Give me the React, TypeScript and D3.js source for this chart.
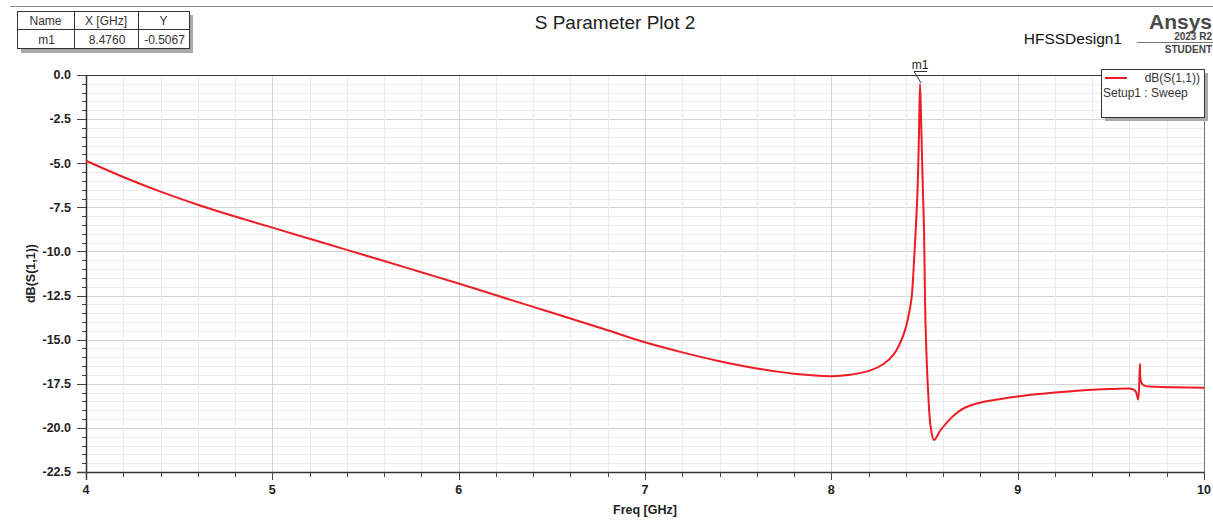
import React from "react";
import * as d3 from "d3";

const freqs = [4.0, 4.2, 4.4, 4.6, 4.8, 5.0, 5.2, 5.4, 5.6, 5.8, 6.0, 6.2, 6.4, 6.6, 6.8, 7.0, 7.2, 7.4, 7.6, 7.8, 8.0, 8.1, 8.21, 8.28, 8.336, 8.39, 8.417, 8.431, 8.444, 8.462, 8.47, 8.476, 8.482, 8.488, 8.497, 8.506, 8.52, 8.533, 8.551, 8.587, 8.641, 8.694, 8.75, 8.82, 8.909, 9.0, 9.1, 9.2, 9.34, 9.5, 9.6, 9.625, 9.635, 9.647, 9.656, 9.662, 9.68, 9.75, 10.0];
const s11 = [-4.86, -5.78, -6.61, -7.35, -8.02, -8.65, -9.28, -9.91, -10.54, -11.18, -11.82, -12.48, -13.14, -13.8, -14.47, -15.15, -15.72, -16.22, -16.63, -16.93, -17.07, -16.99, -16.74, -16.38, -15.82, -14.64, -13.5, -12.6, -10.49, -6.71, -3.5, -0.51, -2.6, -5.2, -8.6, -14.3, -18.05, -19.93, -20.69, -20.12, -19.46, -18.99, -18.72, -18.52, -18.36, -18.22, -18.1, -18.0, -17.88, -17.8, -17.77, -17.85, -17.95, -18.39, -16.38, -17.39, -17.61, -17.67, -17.72];

const xTicks = [4, 5, 6, 7, 8, 9, 10];
const yTicks = [0, -2.5, -5, -7.5, -10, -12.5, -15, -17.5, -20, -22.5];
const markerHeaders = ["Name", "X [GHz]", "Y"];
const markerRow = ["m1", "8.4760", "-0.5067"];
const markerFreq = 8.476;
const markerVal = -0.5067;

const FONT = "'Liberation Sans', Arial, sans-serif";

export default function App() {
  const left = 86, right = 1204, top = 75, bottom = 472;
  const x = d3.scaleLinear().domain([4, 10]).range([left, right]);
  const y = d3.scaleLinear().domain([0, -22.5]).range([top, bottom]);

  const pts = freqs.map((f, i) => [f, s11[i]] as [number, number]);
  const line = d3
    .line<[number, number]>()
    .x((d) => x(d[0]))
    .y((d) => y(d[1]))
    .curve(d3.curveCatmullRom.alpha(0.5));

  const xMinor = d3.range(0, 31).map((i) => 4 + i * 0.2);
  const yMinor = d3.range(0, 46).map((i) => -i * 0.5);

  const mx = x(markerFreq);
  const my = y(markerVal);

  const colX = [17, 74, 138, 189];

  return (
    <svg
      width={1213}
      height={520}
      style={{ position: "absolute", left: 0, top: 0, background: "#fff" }}
      fontFamily={FONT}
    >
      <rect x={0} y={0} width={1213} height={520} fill="#fff" />
      {/* top rule */}
      <line x1={10} x2={1213} y1={6.5} y2={6.5} stroke="#8a8a8a" strokeWidth={1} />

      {/* grid */}
      {yMinor.map((v, i) => (
        <line
          key={"gy" + i}
          x1={left}
          x2={right}
          y1={Math.round(y(v)) + 0.5}
          y2={Math.round(y(v)) + 0.5}
          stroke={i % 5 === 0 ? "#d4d4d4" : "#ececec"}
          strokeWidth={1}
        />
      ))}
      {xMinor.map((v, i) => (
        <line
          key={"gx" + i}
          y1={top}
          y2={bottom}
          x1={Math.round(x(v)) + 0.5}
          x2={Math.round(x(v)) + 0.5}
          stroke={i % 5 === 0 ? "#d4d4d4" : "#ececec"}
          strokeWidth={1}
        />
      ))}

      {/* frame */}
      <line x1={left} x2={right} y1={top + 0.5} y2={top + 0.5} stroke="#333" strokeWidth={1.2} />
      <line x1={right + 0.5} x2={right + 0.5} y1={top} y2={bottom} stroke="#777" strokeWidth={1} />
      <line x1={left + 0.5} x2={left + 0.5} y1={top} y2={bottom + 8} stroke="#333" strokeWidth={1.5} />
      <line x1={left - 9} x2={right} y1={bottom + 0.5} y2={bottom + 0.5} stroke="#333" strokeWidth={1.5} />

      {/* y ticks */}
      {yMinor.map((v, i) => (
        <line
          key={"ty" + i}
          x1={i % 5 === 0 ? left - 9 : left - 4}
          x2={left}
          y1={Math.round(y(v)) + 0.5}
          y2={Math.round(y(v)) + 0.5}
          stroke="#444"
          strokeWidth={1}
        />
      ))}
      {xMinor.map((v, i) => (
        <line
          key={"tx" + i}
          y1={bottom}
          y2={i % 5 === 0 ? bottom + 8 : bottom + 5}
          x1={Math.round(x(v)) + 0.5}
          x2={Math.round(x(v)) + 0.5}
          stroke="#444"
          strokeWidth={1}
        />
      ))}
      {yTicks.map((v) => (
        <text
          key={"ly" + v}
          x={71}
          y={y(v)}
          dy="0.35em"
          textAnchor="end"
          fontSize={12.5}
          fontWeight="bold"
          fill="#222"
        >
          {v.toFixed(1)}
        </text>
      ))}
      {xTicks.map((v) => (
        <text
          key={"lx" + v}
          x={x(v)}
          y={494}
          textAnchor="middle"
          fontSize={12.5}
          fontWeight="bold"
          fill="#222"
        >
          {v}
        </text>
      ))}
      <text x={(left + right) / 2} y={514} textAnchor="middle" fontSize={12.5} fontWeight="bold" fill="#222">
        Freq [GHz]
      </text>
      <text
        transform={`translate(35,${(top + bottom) / 2}) rotate(-90)`}
        textAnchor="middle"
        fontSize={12.5}
        fontWeight="bold"
        fill="#222"
      >
        dB(S(1,1))
      </text>

      {/* curve */}
      <path d={line(pts) || ""} fill="none" stroke="#ee1c25" strokeWidth={2} strokeLinejoin="round" />

      {/* marker */}
      <line x1={mx + 1} y1={my - 1} x2={mx - 6} y2={71.5} stroke="#333" strokeWidth={1} />
      <line x1={mx - 6} y1={71.5} x2={mx + 7} y2={71.5} stroke="#333" strokeWidth={1} />
      <text x={mx} y={69} textAnchor="middle" fontSize={12} fill="#222">
        m1
      </text>

      {/* title */}
      <text x={615} y={29} textAnchor="middle" fontSize={19} fill="#222">
        S Parameter Plot 2
      </text>
      <text x={1122} y={44} textAnchor="end" fontSize={15.5} fill="#111">
        HFSSDesign1
      </text>
      <text x={1212} y={29} textAnchor="end" fontSize={21} fontWeight="bold" fill="#4a4a4a">
        Ansys
      </text>
      <text x={1212} y={40} textAnchor="end" fontSize={10} fontWeight="bold" fill="#444">
        2023 R2
      </text>
      <line x1={1137} x2={1213} y1={42.5} y2={42.5} stroke="#777" strokeWidth={1} />
      <text x={1212} y={53} textAnchor="end" fontSize={10} fontWeight="bold" fill="#444">
        STUDENT
      </text>

      {/* marker table */}
      <rect x={colX[0] + 4} y={15} width={colX[3] - colX[0]} height={38} fill="#a9a9a9" />
      <rect x={colX[0] + 0.5} y={11.5} width={colX[3] - colX[0]} height={37} fill="#fff" stroke="#333" strokeWidth={1} />
      <line x1={colX[0]} x2={colX[3]} y1={29.5} y2={29.5} stroke="#333" strokeWidth={1} />
      <line x1={colX[1] + 0.5} x2={colX[1] + 0.5} y1={11} y2={48} stroke="#333" strokeWidth={1} />
      <line x1={colX[2] + 0.5} x2={colX[2] + 0.5} y1={11} y2={48} stroke="#333" strokeWidth={1} />
      {markerHeaders.map((h, i) => (
        <text key={"h" + i} x={(colX[i] + colX[i + 1]) / 2} y={25} textAnchor="middle" fontSize={12} fill="#333">
          {h}
        </text>
      ))}
      {markerRow.map((h, i) => (
        <text key={"r" + i} x={(colX[i] + colX[i + 1]) / 2 + 1} y={44} textAnchor="middle" fontSize={12} fill="#333">
          {h}
        </text>
      ))}

      {/* legend */}
      <rect x={1105} y={73} width={103} height={48} fill="#a9a9a9" />
      <rect x={1101.5} y={69.5} width={103} height={48} fill="#fff" stroke="#333" strokeWidth={1} />
      <line x1={1105} x2={1127} y1={78} y2={78} stroke="#ee1c25" strokeWidth={2} />
      <text x={1200} y={82} textAnchor="end" fontSize={12} fill="#333">
        dB(S(1,1))
      </text>
      <text x={1103} y={97} fontSize={12} fill="#333">
        Setup1 : Sweep
      </text>
    </svg>
  );
}
